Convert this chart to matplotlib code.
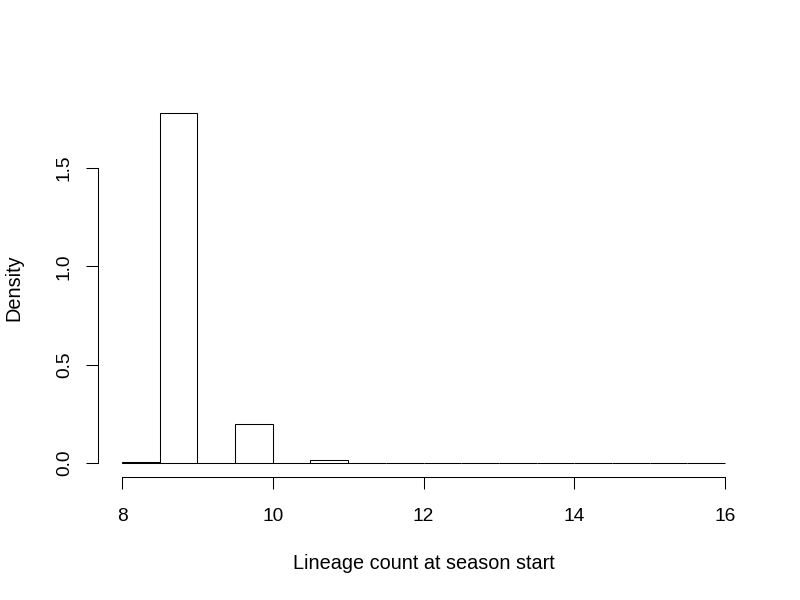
import numpy as np
import matplotlib
matplotlib.use("Agg")
import matplotlib.pyplot as plt

# Histogram data (bin edges and densities)
bin_edges = [8.0, 8.5, 9.0, 9.5, 10.0, 10.5, 11.0, 11.5, 12.0, 12.5, 13.0,
             13.5, 14.0, 14.5, 15.0, 15.5, 16.0]
densities = [0.003, 1.78, 0.0, 0.2, 0.0, 0.013, 0.0, 0.0, 0.0, 0.002, 0.0,
             0.0, 0.0, 0.0, 0.0, 0.002]
x_ticks = [8, 10, 12, 14, 16]
y_ticks = [0.0, 0.5, 1.0, 1.5]
y_tick_labels = ["0.0", "0.5", "1.0", "1.5"]
x_label = "Lineage count at season start"
y_label = "Density"

plt.rcParams['font.family'] = ['Liberation Sans', 'DejaVu Sans']

W, H = 800, 600
fig = plt.figure(figsize=(8, 6), dpi=100)
left, right, top, bottom = 98, 749, 99, 477
ax = fig.add_axes([left / W, 1 - bottom / H, (right - left) / W, (bottom - top) / H])

edges = np.array(bin_edges)
widths = np.diff(edges)
ax.bar(edges[:-1], densities, width=widths, align='edge',
       facecolor='white', edgecolor='black', linewidth=0.75)

xmin, xmax = edges[0], edges[-1]
xr = xmax - xmin
ax.set_xlim(xmin - 0.04 * xr, xmax + 0.04 * xr)
ymax = max(densities)
ax.set_ylim(-0.04 * ymax, ymax * 1.04)

for s in ['top', 'right']:
    ax.spines[s].set_visible(False)
ax.spines['left'].set_bounds(y_ticks[0], y_ticks[-1])
ax.spines['bottom'].set_bounds(x_ticks[0], x_ticks[-1])
for s in ['left', 'bottom']:
    ax.spines[s].set_linewidth(0.75)

ax.set_xticks(x_ticks)
ax.set_xticklabels([str(t) for t in x_ticks])
ax.set_yticks(y_ticks)
ax.set_yticklabels(y_tick_labels, rotation=90, va='center')
ax.tick_params(axis='both', direction='out', length=8.6, width=0.75,
               labelsize=13.8, color='black')
ax.tick_params(axis='x', pad=13.5)
ax.tick_params(axis='y', pad=9.5)

fig.text(424 / W, 1 - 569 / H, x_label, ha='center', va='baseline', fontsize=14.3)
fig.text(19 / W, 1 - 288 / H, y_label, ha='center', va='baseline', fontsize=14.3,
         rotation=90, rotation_mode='anchor')

fig.savefig("out.png", dpi=100)
